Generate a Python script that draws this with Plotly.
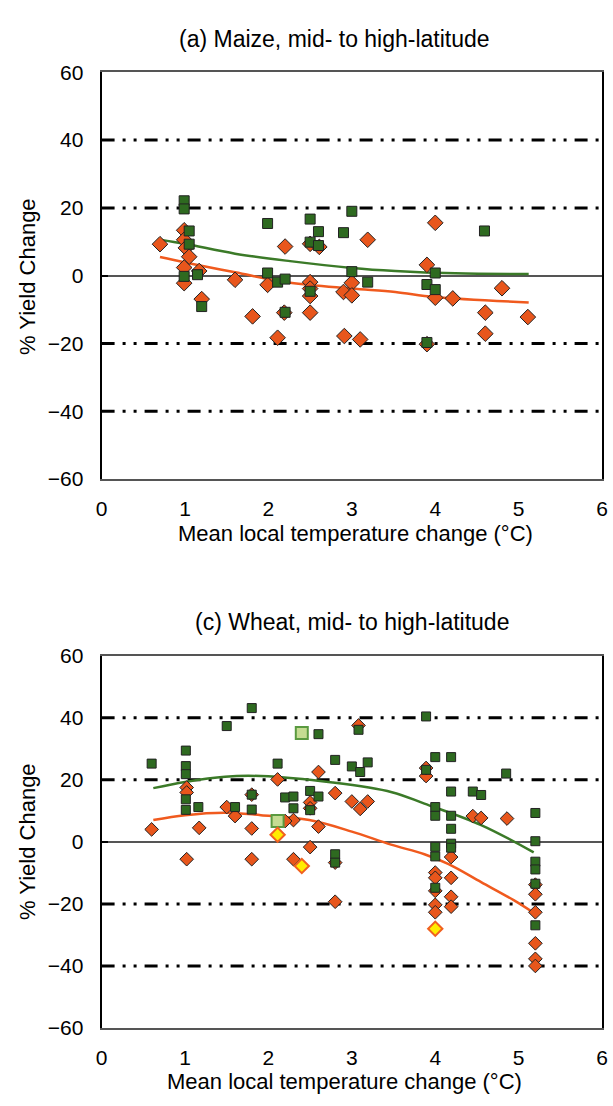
import plotly.graph_objects as go

# ---------------- data: (a) Maize ----------------
maize_green_x = [0.99, 0.99, 1.05, 1.05, 0.99, 1.15, 1.20, 1.99, 1.99, 2.11, 2.20, 2.20, 2.50, 3.00,
                 2.60, 2.90, 2.50, 2.60, 3.00, 3.19, 2.50, 4.59, 4.00, 3.90, 4.00, 3.90]
maize_green_y = [22.1, 19.7, 13.2, 9.3, -0.2, 0.3, -9.1, 15.4, 0.8, -1.9, -1.0, -10.8, 16.7, 19.0,
                 13.0, 12.7, 9.9, 8.9, 1.2, -1.9, -4.6, 13.2, 0.8, -2.6, -4.1, -19.7]
maize_orange_x = [0.70, 0.99, 0.99, 1.01, 1.05, 0.99, 1.17, 0.99, 1.20, 1.60, 1.81, 1.99, 2.11, 2.20,
                  2.19, 4.00, 3.19, 2.50, 2.61, 3.90, 2.50, 3.00, 2.50, 2.50, 2.90, 3.00, 4.00, 4.21,
                  4.80, 2.50, 4.60, 5.11, 4.60, 2.91, 3.10, 3.90]
maize_orange_y = [9.3, 13.4, 10.6, 8.2, 5.6, 2.4, 1.4, -2.2, -6.9, -1.2, -12.0, -2.7, -18.3, 8.6,
                  -10.9, 15.6, 10.6, 9.4, 8.5, 3.2, -1.9, -2.1, -3.8, -6.0, -4.8, -5.8, -6.5, -6.7,
                  -3.7, -10.9, -10.9, -12.2, -17.1, -17.8, -18.8, -20.2]
maize_green_trend_x = [0.70, 1.00, 1.60, 2.26, 3.00, 3.52, 4.24, 5.12]
maize_green_trend_y = [10.6, 9.4, 6.5, 4.3, 2.3, 1.4, 0.7, 0.5]
maize_orange_trend_x = [0.70, 1.00, 1.60, 2.26, 3.00, 3.52, 3.99, 5.12]
maize_orange_trend_y = [5.5, 3.9, 1.0, -2.1, -3.8, -4.8, -6.3, -7.9]

# ---------------- data: (c) Wheat ----------------
wheat_green_x = [1.80, 1.50, 1.01, 0.60, 1.01, 1.01, 1.01, 1.01, 1.16, 1.60, 1.80, 1.80,
                 2.60, 3.08, 3.89, 2.11, 2.80, 3.00, 3.10, 3.19, 3.89, 2.20, 2.30, 2.30, 2.50, 2.60,
                 2.50, 2.80, 2.80,
                 4.00, 4.19, 4.85, 4.19, 4.45, 4.55, 4.00, 4.00, 4.19, 4.19, 4.19, 4.19, 4.00, 4.00,
                 4.00, 5.20, 5.20, 5.20, 5.20, 5.20, 5.20]
wheat_green_y = [43.1, 37.3, 29.4, 25.2, 24.4, 21.8, 13.7, 10.3, 11.2, 11.2, 15.2, 10.4,
                 34.7, 36.1, 40.4, 25.2, 26.4, 24.3, 22.5, 25.6, 23.2, 14.3, 14.6, 10.8, 16.4, 14.6,
                 10.2, -4.0, -6.7,
                 27.3, 27.3, 22.0, 16.2, 16.2, 15.1, 11.2, 8.4, 8.4, 4.2, -0.6, -1.9, -1.6, -4.7,
                 -14.8, 9.3, 0.2, -6.4, -8.9, -13.5, -26.9]
wheat_orange_x = [1.02, 1.02, 0.60, 1.17, 1.50, 1.60, 1.80, 1.80, 1.02, 1.80,
                  3.08, 2.60, 2.11, 3.89, 2.80, 2.50, 2.50, 3.00, 3.10, 3.19, 2.30, 2.60, 2.20, 2.50,
                  2.30, 2.80, 2.80,
                  3.89, 4.45, 4.55, 4.86, 4.19, 4.00, 4.00, 4.00, 4.00, 4.00, 4.19, 4.19, 4.19,
                  5.20, 5.20, 5.20, 5.20, 5.20, 5.20]
wheat_orange_y = [17.5, 15.9, 4.0, 4.5, 11.2, 8.3, 15.2, 4.3, -5.6, -5.6,
                  37.5, 22.5, 20.1, 21.2, 15.7, 12.7, 10.8, 13.0, 10.6, 13.0, 7.0, 4.9, 6.7, -1.7,
                  -5.6, -6.7, -19.3,
                  23.8, 8.3, 7.7, 7.5, -4.9, -9.9, -11.6, -15.8, -20.3, -22.7, -11.6, -17.7, -20.9,
                  -13.8, -16.9, -22.7, -32.7, -37.7, -40.0]
wheat_light_x = [2.40, 2.11]
wheat_light_y = [35.1, 6.7]
wheat_yellow_x = [2.11, 2.40, 4.00]
wheat_yellow_y = [2.3, -7.8, -28.0]
wheat_green_trend_x = [0.62, 1.00, 1.48, 1.91, 2.77, 3.48, 3.87, 4.55, 5.18]
wheat_green_trend_y = [17.3, 19.3, 21.0, 21.2, 19.1, 16.0, 12.3, 5.4, -3.4]
wheat_orange_trend_x = [0.62, 1.00, 1.48, 1.91, 2.49, 3.00, 3.47, 3.87, 4.16, 4.55, 4.94, 5.17]
wheat_orange_trend_y = [7.0, 8.6, 9.4, 8.6, 7.0, 3.3, -0.9, -4.0, -7.2, -13.0, -18.8, -22.7]

x_ticks = [0, 1, 2, 3, 4, 5, 6]
y_ticks = [-60, -40, -20, 0, 20, 40, 60]
grid_values = [-40, -20, 20, 40]

titles = ["(a) Maize, mid- to high-latitude", "(c) Wheat, mid- to high-latitude"]
x_title = "Mean local temperature change (°C)"
y_title = "% Yield Change"

# ---------------- styles ----------------
W, H = 613, 1106
FONT = "Liberation Sans, Arial, Helvetica, sans-serif"
FS_TICK = 21
FS_AX = 22
FS_TITLE = 23
GREEN = "#2e6a20"
ORANGE = "#e8561c"
GREEN_LINE = "#3b7a28"
ORANGE_LINE = "#f05a1e"
EDGE = "#222222"

def px_x(p):
    return p / W

def px_y(p):
    return 1 - p / H

x_dom = [px_x(97.5), px_x(608)]
y_dom_top = [px_y(477), px_y(61.6)]
y_dom_bot = [px_y(1037.6), px_y(657.3)]

fig = go.Figure()

def add_panel(xa, ya, gx, gy, ox, oy, gtx, gty, otx, oty, sq_size, dm_size):
    fig.add_trace(go.Scatter(x=gtx, y=gty, mode="lines", line=dict(color=GREEN_LINE, width=2.5, shape="spline"),
                             xaxis=xa, yaxis=ya, hoverinfo="skip", showlegend=False))
    fig.add_trace(go.Scatter(x=otx, y=oty, mode="lines", line=dict(color=ORANGE_LINE, width=2.5, shape="spline"),
                             xaxis=xa, yaxis=ya, hoverinfo="skip", showlegend=False))
    fig.add_trace(go.Scatter(x=ox, y=oy, mode="markers",
                             marker=dict(symbol="diamond", size=dm_size, color=ORANGE, line=dict(color=EDGE, width=1)),
                             xaxis=xa, yaxis=ya, showlegend=False))
    fig.add_trace(go.Scatter(x=gx, y=gy, mode="markers",
                             marker=dict(symbol="square", size=sq_size, color=GREEN, line=dict(color=EDGE, width=1)),
                             xaxis=xa, yaxis=ya, showlegend=False))

add_panel("x", "y", maize_green_x, maize_green_y, maize_orange_x, maize_orange_y,
          maize_green_trend_x, maize_green_trend_y, maize_orange_trend_x, maize_orange_trend_y, 10, 12)
add_panel("x2", "y2", wheat_green_x, wheat_green_y, wheat_orange_x, wheat_orange_y,
          wheat_green_trend_x, wheat_green_trend_y, wheat_orange_trend_x, wheat_orange_trend_y, 9, 10.5)

fig.add_trace(go.Scatter(x=wheat_light_x, y=wheat_light_y, mode="markers",
                         marker=dict(symbol="square", size=12, color="#c5dc92", line=dict(color="#5a9a40", width=2)),
                         xaxis="x2", yaxis="y2", showlegend=False))
fig.add_trace(go.Scatter(x=wheat_yellow_x, y=wheat_yellow_y, mode="markers",
                         marker=dict(symbol="diamond", size=11, color="#ffec00", line=dict(color="#f06020", width=2)),
                         xaxis="x2", yaxis="y2", showlegend=False))

axis_common_x = dict(range=[0, 6], tickvals=x_ticks, showgrid=False, zeroline=False, showline=True,
                     linecolor="#555555", linewidth=1.5, mirror=True, ticks="",
                     tickfont=dict(family=FONT, size=FS_TICK, color="black"), ticklabelstandoff=10,
                     ticklabeloverflow="allow")
axis_common_y = dict(range=[-60, 60], tickvals=y_ticks, showgrid=False, zeroline=True,
                     zerolinecolor="#555555", zerolinewidth=1.5, showline=True,
                     linecolor="black", linewidth=2, mirror=True, ticks="inside", ticklen=6, tickwidth=2,
                     tickcolor="black", tickfont=dict(family=FONT, size=FS_TICK, color="black"),
                     ticklabelstandoff=12, ticklabeloverflow="allow")

fig.update_layout(
    width=W, height=H, margin=dict(l=0, r=0, t=0, b=0),
    paper_bgcolor="white", plot_bgcolor="white",
    xaxis=dict(domain=x_dom, anchor="y", **axis_common_x),
    yaxis=dict(domain=y_dom_top, anchor="x", **axis_common_y),
    xaxis2=dict(domain=x_dom, anchor="y2", **axis_common_x),
    yaxis2=dict(domain=y_dom_bot, anchor="x2", **axis_common_y),
    font=dict(family=FONT, size=FS_TICK, color="black"),
)

grid_dash = "13px,8px,3px,8px,3px,8px"
for xr, yr in [("x domain", "y"), ("x2 domain", "y2")]:
    for v in grid_values:
        fig.add_shape(type="line", xref=xr, yref=yr, x0=0, x1=1, y0=v, y1=v, layer="below",
                      line=dict(color="black", width=3, dash=grid_dash))

ann = [
    dict(text=titles[0], x=px_x(335), y=px_y(28), size=FS_TITLE),
    dict(text=titles[1], x=px_x(353), y=px_y(623), size=FS_TITLE),
    dict(text=x_title, x=px_x(356), y=px_y(533), size=FS_AX),
    dict(text=x_title, x=px_x(345), y=px_y(1092), size=FS_AX),
    dict(text=y_title, x=px_x(22), y=px_y(270), size=FS_AX, textangle=-90),
    dict(text=y_title, x=px_x(22), y=px_y(847), size=FS_AX, textangle=-90),
]
for a in ann:
    sz = a.pop("size")
    fig.add_annotation(xref="paper", yref="paper", xanchor="center", yanchor="middle", showarrow=False,
                       font=dict(family=FONT, size=sz, color="black"), **a)

fig.write_html("out.html")
